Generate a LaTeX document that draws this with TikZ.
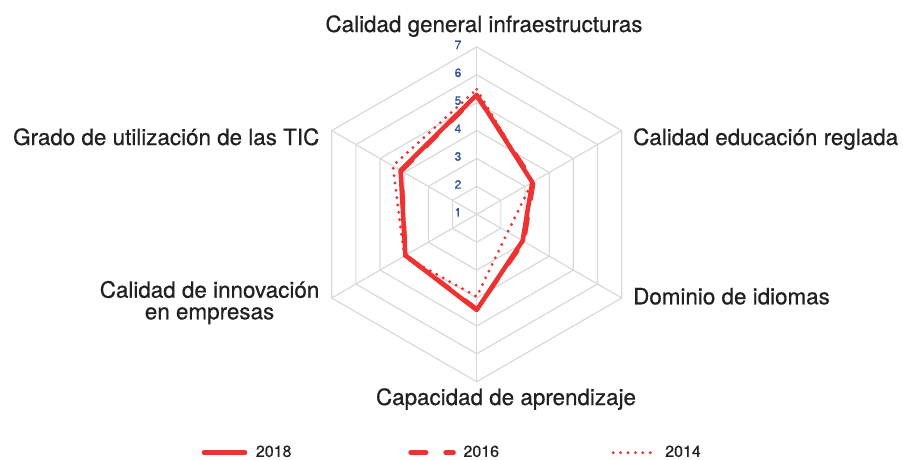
\documentclass[tikz,border=0pt]{standalone}
\usepackage{fontspec}
\setmainfont{TeX Gyre Heros}[FakeBold=0.6]
\usepackage{tikz}
\usetikzlibrary{positioning}
\definecolor{serie}{RGB}{238,50,50}
\definecolor{rejilla}{RGB}{217,217,217}
\definecolor{escala}{RGB}{46,78,152}
\tikzset{every node/.append style={inner sep=0pt}}
\tikzset{eje/.style={font=\fontsize{22.4}{27}\selectfont, text=black!87}}
\tikzset{valor/.style={font=\fontsize{12}{14}\selectfont, text=escala}}
\tikzset{leyenda/.style={font=\fontsize{16}{19}\selectfont, text=black!87, anchor=base west}}
\tikzset{s2018/.style={serie, line width=4.5pt, line join=round, line cap=round}}
\tikzset{s2016/.style={serie, line width=4.5pt, line join=round, line cap=round, dash pattern=on 15.5pt off 19.5pt}}
\tikzset{s2014/.style={serie, line width=3.2pt, line cap=round, dash pattern=on 0pt off 7.4pt}}

\begin{document}
\begin{tikzpicture}[x=1pt,y=1pt]
  \useasboundingbox (-476.7,-244.7) rectangle (426.3,214.3);
  \foreach \r in {1,...,6}
    \draw[rejilla, line width=1.2pt] (90:{\r*27.9}) -- (30:{\r*27.9}) -- (-30:{\r*27.9})
      -- (-90:{\r*27.9}) -- (-150:{\r*27.9}) -- (150:{\r*27.9}) -- cycle;
  \foreach \a in {90,30,-30,-90,-150,150}
    \draw[rejilla, line width=1.2pt] (0,0) -- (\a:167.4);
  \foreach \v in {1,...,7}
    \node[valor] at (-18.7,{(\v-1)*27.9+2}) {\v};

  \foreach \a/\v [count=\i] in {90/5.48,30/3.3,-30/2.28,-90/3.95,-150/4.0,150/4.47}
    \coordinate (c14-\i) at (\a:{(\v-1)*27.9});
  \foreach \a/\v [count=\i] in {90/5.25,30/3.35,-30/2.95,-90/4.4,-150/3.95,150/4.12}
    \coordinate (c16-\i) at (\a:{(\v-1)*27.9});
  \foreach \a/\v [count=\i] in {90/5.28,30/3.3,-30/2.9,-90/4.43,-150/3.95,150/4.15}
    \coordinate (c18-\i) at (\a:{(\v-1)*27.9});
  \draw[s2014] (c14-1) -- (c14-2) -- (c14-3) -- (c14-4) -- (c14-5) -- (c14-6) -- cycle;
  \draw[s2016] (c16-1) -- (c16-2) -- (c16-3) -- (c16-4) -- (c16-5) -- (c16-6) -- cycle;
  \draw[s2018] (c18-1) -- (c18-2) -- (c18-3) -- (c18-4) -- (c18-5) -- (c18-6) -- cycle;

  \node[eje, anchor=base] (infra) at (7.3,182.3) {Calidad general infraestructuras};
  \node[eje, anchor=base west] (educ) at (156.3,69.3) {Calidad educación reglada};
  \node[eje, anchor=base west] (idiom) at (156.3,-90) {Dominio de idiomas};
  \node[eje, anchor=base] (aprend) at (29.3,-190.7) {Capacidad de aprendizaje};
  \node[eje, anchor=base east] (innov) at (-157.2,-83.4) {Calidad de innovación};
  \node[eje, anchor=base] (innov2) at ([yshift=-21.6pt]innov.base) {en empresas};
  \node[eje, anchor=base east] (tic) at (-157.2,69.3) {Grado de utilización de las TIC};

  \coordinate (l18a) at (-272.7,-238.4);
  \coordinate (l18b) at (-231.6,-238.4);
  \coordinate (l16a) at (-66.1,-238.4);
  \coordinate (l16b) at (-23.1,-238.4);
  \coordinate (l14a) at (136.5,-238.4);
  \coordinate (l14b) at (173.6,-238.4);
  \draw[s2018] (l18a) -- (l18b);
  \draw[s2016] (l16a) -- (l16b);
  \draw[s2014] (l14a) -- (l14b);
  \node[leyenda] (t18) at (-221,-242.6) {2018};
  \node[leyenda] (t16) at (-13.4,-242.6) {2016};
  \node[leyenda] (t14) at (188.3,-242.6) {2014};
\end{tikzpicture}
\end{document}
